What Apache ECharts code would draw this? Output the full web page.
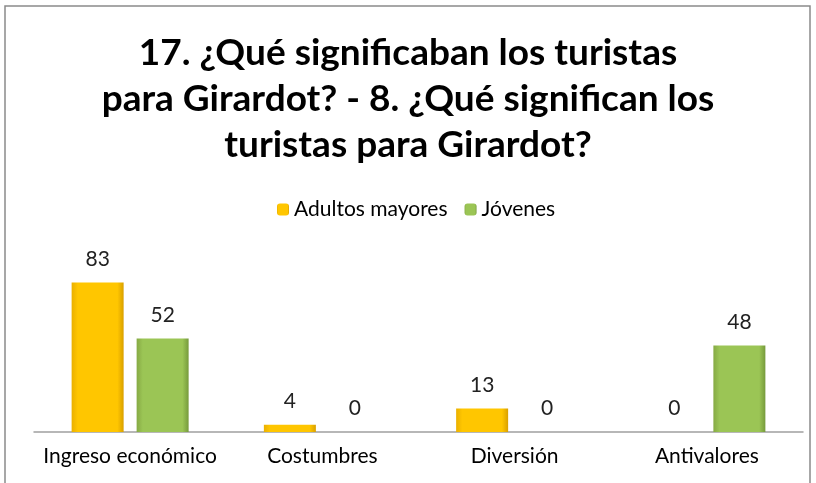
<!DOCTYPE html>
<html lang="es">
<head>
<meta charset="UTF-8">
<title>Turistas Girardot</title>
<style>
  html, body, #main { width: 100%; height: 100%; margin: 0; padding: 0; background: #fff; }
</style>
<script src="https://cdn.jsdelivr.net/npm/echarts@6/dist/echarts.min.js"></script>
</head>
<body>
<div id="main"></div>
<script>
  var chart = echarts.init(document.getElementById('main'));

  // data
  const categories = ['Ingreso económico', 'Costumbres', 'Diversión', 'Antivalores'];
  const adultos = [83, 4, 13, 0];
  const jovenes = [52, 0, 0, 48];
  const seriesNames = ['Adultos mayores', 'Jóvenes'];

  const font = 'Lato, "Open Sans", sans-serif';

  function bevel(c1, c2, c3) {
    return new echarts.graphic.LinearGradient(0, 0, 1, 0, [
      { offset: 0, color: c1 },
      { offset: 0.12, color: c2 },
      { offset: 0.88, color: c2 },
      { offset: 1, color: c3 }
    ]);
  }

  var option = {
    animation: false,
    title: {
      text: '17. ¿Qué significaban los turistas\npara Girardot? - 8. ¿Qué significan los\nturistas para Girardot?',
      left: 'center',
      top: 25,
      textStyle: { fontFamily: font, fontWeight: 'bold', fontSize: 37, lineHeight: 46, color: '#000' }
    },
    legend: {
      data: seriesNames,
      top: 194,
      left: 272,
      itemWidth: 12,
      itemHeight: 12,
      itemGap: 17,
      textStyle: { fontFamily: font, fontSize: 21, color: '#000' }
    },
    graphic: [{
      type: 'rect',
      shape: { x: 5, y: 6, width: 805, height: 500 },
      style: { fill: 'none', stroke: '#8a8a8a', lineWidth: 1.5 },
      silent: true
    }],
    grid: { left: 34, right: 13, top: 252, bottom: 51 },
    xAxis: {
      type: 'category',
      data: categories,
      axisLine: { lineStyle: { color: '#a0a0a0', width: 1.5 } },
      axisTick: { show: false },
      axisLabel: { interval: 0, fontFamily: font, fontSize: 21, color: '#000', margin: 14 }
    },
    yAxis: {
      type: 'value',
      min: 0,
      max: 100,
      show: false,
      splitLine: { show: false }
    },
    series: [
      {
        name: seriesNames[0],
        type: 'bar',
        data: adultos,
        barWidth: 52,
        barGap: '25%',
        itemStyle: { color: bevel('#eab000', '#ffc600', '#d9a000') },
        label: { show: true, position: 'top', distance: 13, fontFamily: font, fontSize: 21, color: '#222' }
      },
      {
        name: seriesNames[1],
        type: 'bar',
        data: jovenes,
        barWidth: 52,
        itemStyle: { color: bevel('#86aa44', '#9bc555', '#769a3c') },
        label: { show: true, position: 'top', distance: 13, fontFamily: font, fontSize: 21, color: '#222' }
      }
    ]
  };

  chart.setOption(option);
</script>
</body>
</html>
